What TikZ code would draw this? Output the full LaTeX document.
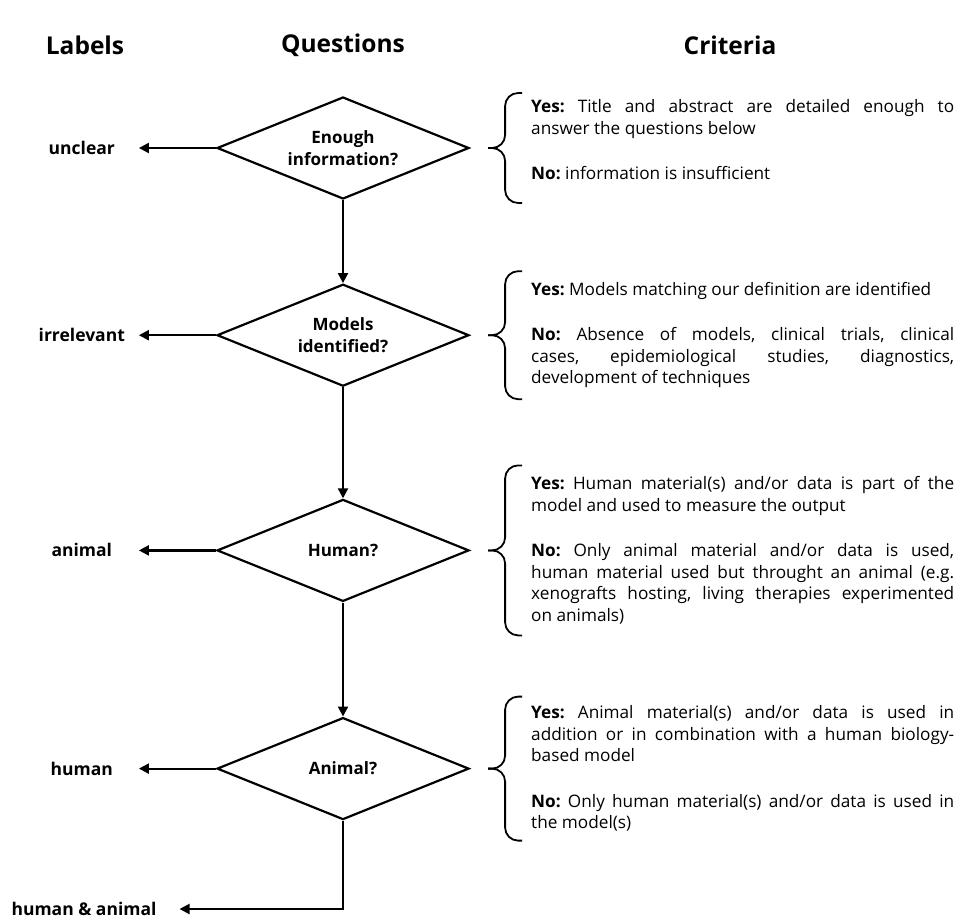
\documentclass[tikz,border=0pt]{standalone}
\usepackage{fontspec}
\setmainfont{Open Sans}
\frenchspacing
\hyphenpenalty=10000
\usetikzlibrary{positioning, arrows.meta, shapes.geometric}

\begin{document}
\begin{tikzpicture}[x=1pt, y=1pt, line width=2.2pt]
    \tikzset{
      question/.style={
        diamond, draw=black, aspect=2.47, inner sep=0pt,
        minimum width=252pt, minimum height=102pt,
        align=center, font=\bfseries\fontsize{17}{22}\selectfont
      },
      tag/.style={inner sep=0pt, minimum width=112pt, align=center,
        font=\bfseries\fontsize{17.5}{20}\selectfont},
      header/.style={font=\bfseries\fontsize{24.5}{28}\selectfont},
      crit/.style={
        anchor=west, inner sep=0pt, text width=423pt, align=justify,
        font=\fontsize{17.2}{21.5}\selectfont
      },
      curly/.style={line width=1.8pt, rounded corners=13pt},
      arr/.style={-{Triangle[length=10pt,width=10pt]}}
    }
    \useasboundingbox (0,0) rectangle (959,-921);

    % Column heads
    \node[header] (hlab) at (85,-45) {Labels};
    \node[header] (hque) at (343,-45) {Questions};
    \node[header] (hcri) at (730,-45) {Criteria};

    % Questions
    \node[question] (d1) at (343,-148) {Enough\\information?};
    \node[question, below=83pt of d1] (d2) {Models\\identified?};
    \node[question, below=111pt of d2] (d3) {Human?};
    \node[question, below=114pt of d3] (d4) {Animal?};

    % Labels
    \node[tag, left=77pt of d1] (unclear) {unclear};
    \node[tag, left=77pt of d2] (irrel) {irrelevant};
    \node[tag, left=77pt of d3] (animal) {animal};
    \node[tag, left=77pt of d4] (human) {human};
    \node[tag] (both) at (84,-909) {human \& animal};

    % Criteria
    \node[crit, right=60pt of d1, yshift=8pt] (c1) {\textbf{Yes:} Title and abstract are detailed enough to\linebreak
      answer the questions below\par\vspace{24pt}
      \textbf{No:} information is insufficient};
    \node[crit, right=60pt of d2] (c2) {\textbf{Yes:} Models matching our definition are identified\par\vspace{24pt}
      \textbf{No:} Absence of models, clinical trials, clinical\linebreak
      cases, epidemiological studies, diagnostics,\linebreak
      development of techniques};
    \node[crit, right=60pt of d3] (c3) {\textbf{Yes:} Human material(s) and/or data is part of the\linebreak
      model and used to measure the output\par\vspace{24pt}
      \textbf{No:} Only animal material and/or data is used,\linebreak
      human material used but throught an animal (e.g.\linebreak
      xenografts hosting, living therapies experimented\linebreak
      on animals)};
    \node[crit, right=60pt of d4] (c4) {\textbf{Yes:} Animal material(s) and/or data is used in\linebreak
      addition or in combination with a human biology-\linebreak
      based model\par\vspace{24pt}
      \textbf{No:} Only human material(s) and/or data is used in\linebreak
      the model(s)};

    % Braces
    \foreach \c/\h/\s in {c1/55/-8, c2/64/0, c3/85/0, c4/72/0} {
      \draw[curly] ([shift={(-8,\h+\s)}]\c.west) -- ++(-17,0) -- ++(0,-\h) -- ++(-17,0);
      \draw[curly] ([shift={(-8,-\h+\s)}]\c.west) -- ++(-17,0) -- ++(0,\h) -- ++(-17,0);
    }

    % Flow
    \draw[arr] (d1) -- (d2);
    \draw[arr] (d2) -- (d3);
    \draw[arr] (d3) -- (d4);
    \draw[arr] (d1) -- (unclear);
    \draw[arr] (d2) -- (irrel);
    \draw[arr] (d3) -- (animal);
    \draw[arr] (d4) -- (human);
    \draw[arr, shorten >=22pt] (d4.south) |- (both.east);
\end{tikzpicture}
\end{document}
